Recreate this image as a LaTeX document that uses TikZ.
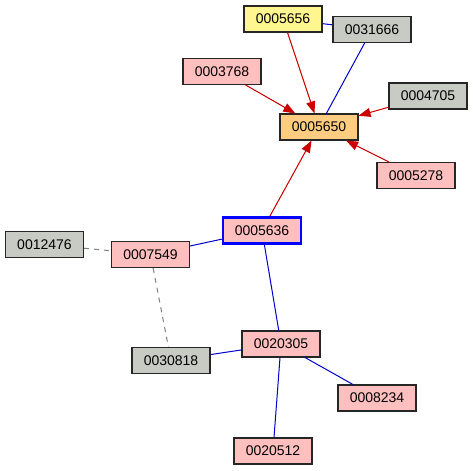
\documentclass[tikz,border=0pt]{standalone}
\usepackage{fontspec}
\setmainfont{Liberation Sans}
\usetikzlibrary{arrows.meta}
\definecolor{pinkfill}{HTML}{FFBFBF}
\definecolor{greyfill}{HTML}{C8CAC4}
\definecolor{yellowfill}{HTML}{FFF68F}
\definecolor{orangefill}{HTML}{FFCC80}
\definecolor{redline}{HTML}{CC0000}
\definecolor{blueline}{HTML}{0000CC}
\definecolor{dashgrey}{HTML}{808080}
\begin{document}
\begin{tikzpicture}[x=1bp,y=-1bp,
  box/.style={draw=black!85,line width=1.1bp,minimum width=78bp,minimum height=26bp,inner sep=0pt,font=\fontsize{14bp}{16bp}\selectfont},
  pinkbox/.style={box,fill=pinkfill},
  greybox/.style={box,fill=greyfill},
  yellowbox/.style={box,fill=yellowfill},
  orangebox/.style={box,fill=orangefill},
  focusbox/.style={box,fill=pinkfill,draw=blue,line width=2.5bp},
  arr/.style={draw=redline,line width=1bp,-{Triangle[length=12bp,width=9bp]},fill=redline},
  link/.style={draw=blueline,line width=1bp},
  weak/.style={draw=dashgrey,line width=1bp,dash pattern=on 5bp off 5bp}]
\useasboundingbox (0,0) rectangle (473,471);
\fill[white] (0,0) rectangle (473,471);
\node[yellowbox] (n5656) at (283,19) {0005656};
\node[greybox] (n31666) at (372,29.5) {0031666};
\node[pinkbox] (n3768) at (222,71.5) {0003768};
\node[greybox] (n4705) at (428,96) {0004705};
\node[orangebox] (n5650) at (319,127) {0005650};
\node[pinkbox] (n5278) at (416,175.5) {0005278};
\node[focusbox] (n5636) at (262,230.5) {0005636};
\node[greybox] (n12476) at (44.5,244.5) {0012476};
\node[pinkbox] (n7549) at (150.5,254.5) {0007549};
\node[pinkbox] (n20305) at (281,344) {0020305};
\node[greybox] (n30818) at (171,360.5) {0030818};
\node[pinkbox] (n8234) at (377,398) {0008234};
\node[pinkbox] (n20512) at (273,451) {0020512};
\draw[link] (n5656) -- (n31666);
\draw[link] (n31666) -- (n5650);
\draw[arr] (n5656) -- (n5650);
\draw[arr] (n3768) -- (n5650);
\draw[arr] (n4705) -- (n5650);
\draw[arr] (n5278) -- (n5650);
\draw[arr] (n5636) -- (n5650);
\draw[link] (n5636) -- (n7549);
\draw[link] (n5636) -- (n20305);
\draw[weak] (n12476) -- (n7549);
\draw[weak] (n7549) -- (n30818);
\draw[link] (n30818) -- (n20305);
\draw[link] (n20305) -- (n8234);
\draw[link] (n20305) -- (n20512);
\end{tikzpicture}
\end{document}
